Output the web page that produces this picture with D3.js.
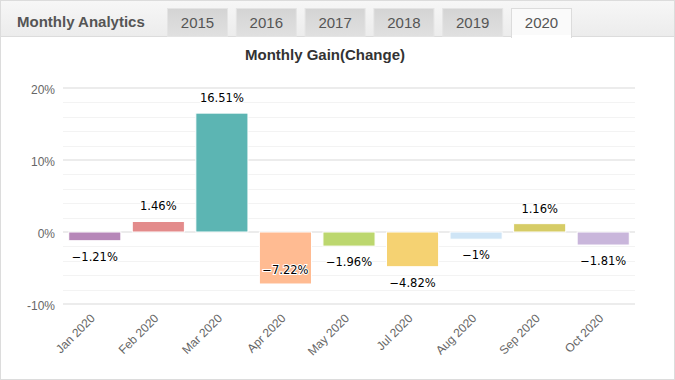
<!DOCTYPE html>
<html>
  <head>
    <meta charset="utf-8">
    <title>Monthly Gain(Change)</title>
    <script src="https://d3js.org/d3.v7.min.js"></script>
    <style>
      body { margin: 0; background: #fff; }
      svg { display: block; }
    </style>
  </head>
  <body>
    <svg id="chart" width="675" height="380"></svg>
    <script>
      // chart data
      var years = ["2015", "2016", "2017", "2018", "2019", "2020"];
      var months = ["Jan 2020", "Feb 2020", "Mar 2020", "Apr 2020", "May 2020", "Jul 2020", "Aug 2020", "Sep 2020", "Oct 2020"];
      var gains = [-1.21, 1.46, 16.51, -7.22, -1.96, -4.82, -1, 1.16, -1.81];
      var colours = ["#b687b8", "#e38b8b", "#5cb5b3", "#ffbb92", "#bcd76e", "#f5d272", "#cfe5f6", "#d6cc66", "#c9b6db"];
      var yTicks = [-10, 0, 10, 20];

      svg = d3.select("#chart");

      // header band with tabs
      defs = svg.append("defs");
      bandGrad = defs.append("linearGradient").attr("id", "bandGrad").attr("x1", 0).attr("y1", 0).attr("x2", 0).attr("y2", 1);
      bandGrad.append("stop").attr("offset", "0%").attr("stop-color", "#f7f7f7");
      bandGrad.append("stop").attr("offset", "100%").attr("stop-color", "#ececec");
      tabGrad = defs.append("linearGradient").attr("id", "tabGrad").attr("x1", 0).attr("y1", 0).attr("x2", 0).attr("y2", 1);
      tabGrad.append("stop").attr("offset", "0%").attr("stop-color", "#d4d4d4");
      tabGrad.append("stop").attr("offset", "100%").attr("stop-color", "#e0e0e0");

      svg.append("rect")
        .attr("x", 0).attr("y", 0).attr("width", 675).attr("height", 36)
        .attr("fill", "url(#bandGrad)");
      svg.append("line")
        .attr("x1", 0).attr("x2", 675).attr("y1", 36.5).attr("y2", 36.5)
        .attr("stroke", "#dcdcdc");
      svg.append("text")
        .attr("x", 17).attr("y", 27)
        .attr("font-family", "Liberation Sans, Arial, sans-serif")
        .attr("font-size", 15).attr("font-weight", "bold")
        .attr("fill", "#555")
        .text("Monthly Analytics");

      tabs = svg.selectAll(".tab")
        .data(years)
        .enter().append("g")
          .classed("tab", true)
          .attr("transform", function(d, i) { return "translate(" + (167 + i * 68.8) + ",8)"; });
      tabs.append("rect")
        .attr("x", 0.5).attr("y", 0.5)
        .attr("width", 60).attr("height", function(d) { return d == "2020" ? 29 : 28; })
        .attr("fill", function(d) { return d == "2020" ? "#fafafa" : "url(#tabGrad)"; })
        .attr("stroke", function(d) { return d == "2020" ? "#dcdcdc" : "#e4e4e4"; });
      tabs.filter(function(d) { return d == "2020"; }).append("rect")
        .attr("x", 1).attr("y", 27).attr("width", 59).attr("height", 3)
        .attr("fill", "#fff");
      tabs.append("text")
        .attr("x", 30.5).attr("y", 20)
        .attr("text-anchor", "middle")
        .attr("font-family", "Liberation Sans, Arial, sans-serif")
        .attr("font-size", 15)
        .attr("fill", "#555")
        .text(function(d) { return d; });

      // outer frame
      svg.append("rect")
        .attr("x", 0.5).attr("y", 0.5).attr("width", 674).attr("height", 379)
        .attr("fill", "none").attr("stroke", "#dcdcdc");

      // title
      svg.append("text")
        .attr("x", 325).attr("y", 60)
        .attr("text-anchor", "middle")
        .attr("font-family", "Liberation Sans, Arial, sans-serif")
        .attr("font-size", 15).attr("font-weight", "bold")
        .attr("fill", "#333")
        .text("Monthly Gain(Change)");

      // scales
      x = d3.scaleBand()
        .domain(months)
        .range([63, 635])
        .paddingInner(0.18)
        .paddingOuter(0.09);
      y = d3.scaleLinear()
        .domain([-10, 20])
        .range([304, 88]);

      // grid
      svg.append("g")
        .selectAll("line")
          .data(d3.range(-10, 20.1, 2).filter(function(v) { return v % 10 != 0; }))
        .enter().append("line")
          .attr("x1", 63).attr("x2", 635)
          .attr("y1", function(d) { return Math.round(y(d)) + 0.5; })
          .attr("y2", function(d) { return Math.round(y(d)) + 0.5; })
          .attr("stroke", "#f3f3f3");
      svg.append("g")
        .selectAll("line")
          .data(yTicks)
        .enter().append("line")
          .attr("x1", 63).attr("x2", 635)
          .attr("y1", function(d) { return Math.round(y(d)); })
          .attr("y2", function(d) { return Math.round(y(d)); })
          .attr("stroke", "#e6e6e6")
          .attr("stroke-width", 1.5);

      // y axis labels
      yAxis = svg.append("g")
        .attr("transform", "translate(63,0)")
        .call(d3.axisLeft(y).tickValues(yTicks).tickSize(0).tickPadding(8).tickFormat(function(d) { return d + "%"; }));
      yAxis.select(".domain").remove();
      yAxis.selectAll("text")
        .attr("font-family", "Liberation Sans, Arial, sans-serif")
        .attr("font-size", 12)
        .attr("fill", "#666")
        .attr("dy", "0.45em");

      // x axis labels
      xAxis = svg.append("g")
        .attr("transform", "translate(0,304)")
        .call(d3.axisBottom(x).tickSize(0).tickPadding(0));
      xAxis.select(".domain").remove();
      xAxis.selectAll("text")
        .attr("font-family", "Liberation Sans, Arial, sans-serif")
        .attr("font-size", 12)
        .attr("fill", "#666")
        .attr("text-anchor", "end")
        .attr("dy", 0)
        .attr("y", 0)
        .attr("transform", "translate(1,15) rotate(-45)");

      // bars
      svg.append("g")
        .selectAll("rect")
          .data(gains)
        .enter().append("rect")
          .attr("x", function(d, i) { return x(months[i]); })
          .attr("width", x.bandwidth())
          .attr("y", function(d) { return y(Math.max(d, 0)); })
          .attr("height", function(d) { return Math.abs(y(d) - y(0)); })
          .attr("fill", function(d, i) { return colours[i]; })
          .attr("stroke", "#fff")
          .attr("stroke-width", 1);

      // value labels
      svg.append("g")
        .selectAll("text")
          .data(gains)
        .enter().append("text")
          .attr("x", function(d, i) { return x(months[i]) + x.bandwidth() / 2; })
          .attr("y", function(d) {
            if (d >= 0) return y(d) - 11;
            var below = y(d) + 20;
            return below > 300 ? y(d) - 10 : below;
          })
          .attr("text-anchor", "middle")
          .attr("font-family", "DejaVu Sans, Verdana, sans-serif")
          .attr("font-size", 11.5)
          .attr("fill", "#000")
          .attr("stroke", "#fff")
          .attr("stroke-width", 2)
          .attr("paint-order", "stroke")
          .text(function(d) { return (d < 0 ? "\u2212" + Math.abs(d) : d) + "%"; });
    </script>
  </body>
</html>
